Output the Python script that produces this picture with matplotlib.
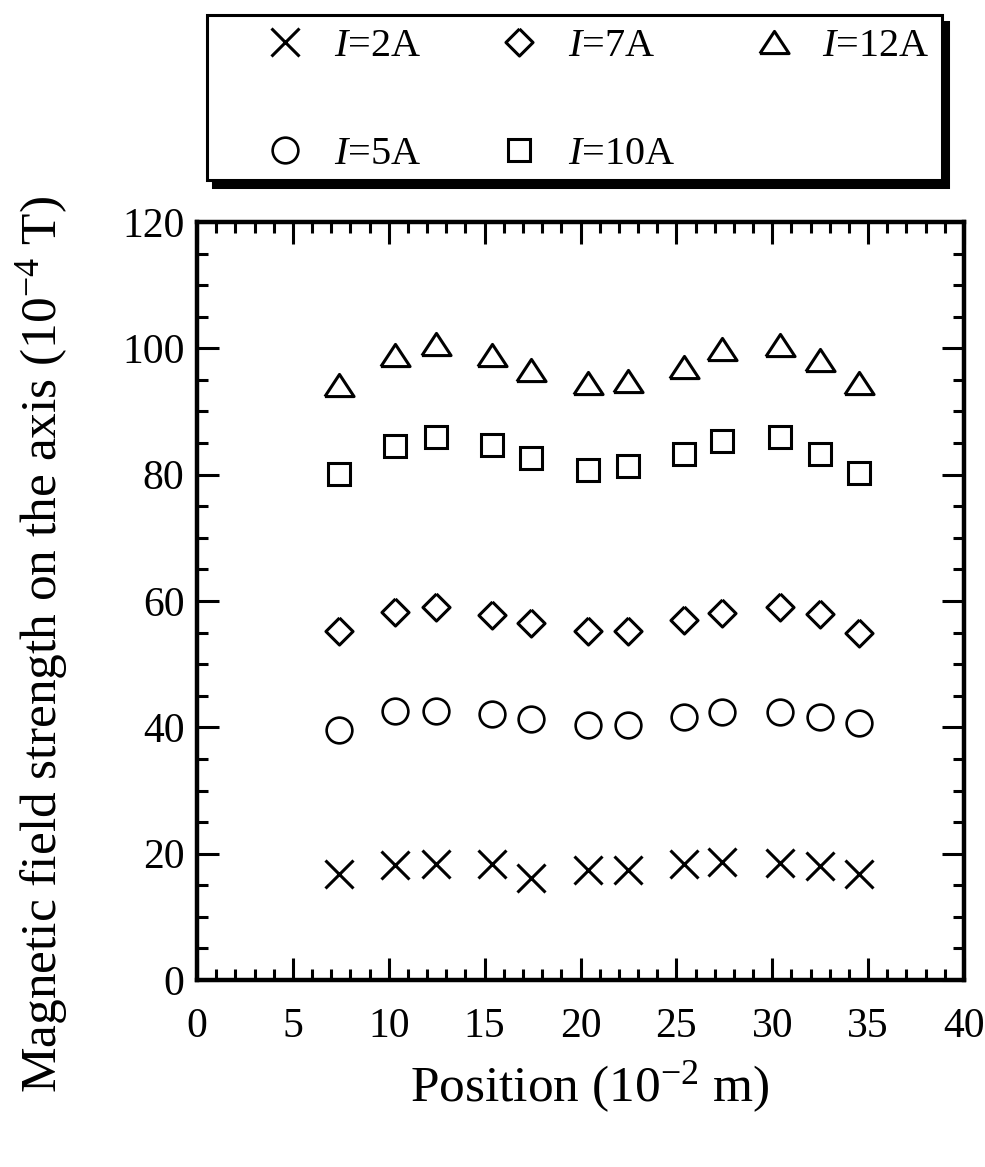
import matplotlib
matplotlib.use("Agg")
import matplotlib.pyplot as plt
from matplotlib.patches import Rectangle
from matplotlib.ticker import MultipleLocator

plt.rcParams['font.family'] = ['Liberation Serif', 'DejaVu Serif']
plt.rcParams['mathtext.fontset'] = 'custom'
plt.rcParams['mathtext.rm'] = 'Liberation Serif'
plt.rcParams['mathtext.it'] = 'Liberation Serif:italic'

# measurement positions along the coil axis (10^-2 m)
position = [7.4, 10.3, 12.45, 15.4, 17.4, 20.4, 22.5, 25.4, 27.4, 30.4, 32.5, 34.5]

# field strength on the axis (10^-4 T) for each coil current
field_2a = [16.8, 18.2, 18.3, 18.3, 16.1, 17.4, 17.4, 18.3, 18.7, 18.6, 18.1, 16.8]
field_5a = [39.6, 42.6, 42.6, 42.1, 41.3, 40.4, 40.4, 41.6, 42.4, 42.5, 41.6, 40.7]
field_7a = [55.3, 58.2, 59.1, 57.8, 56.5, 55.3, 55.2, 57.0, 58.1, 59.0, 57.9, 55.0]
field_10a = [80.1, 84.6, 85.9, 84.7, 82.6, 80.8, 81.3, 83.3, 85.4, 85.9, 83.3, 80.3]
field_12a = [94.2, 99.0, 100.7, 99.0, 96.6, 94.5, 94.9, 97.0, 99.9, 100.6, 98.1, 94.5]

currents = ['2A', '5A', '7A', '10A', '12A']

# hollow marker shapes
diamond = [(0, 1), (1, 0), (0, -1), (-1, 0), (0, 1)]
triangle = [(-1, -0.76), (1, -0.76), (0, 0.76), (-1, -0.76)]

series = [
    (field_2a, dict(marker='x', ms=20, mew=2.2)),
    (field_5a, dict(marker='o', ms=18.5, mew=1.9)),
    (field_7a, dict(marker=diamond, ms=19.5, mew=2.2)),
    (field_10a, dict(marker='s', ms=15.5, mew=2.2)),
    (field_12a, dict(marker=triangle, ms=21, mew=2.2)),
]

fig = plt.figure(figsize=(9.85, 11.67), dpi=100)
ax = fig.add_axes([0.2, 0.1602, 0.7787, 0.6496])

handles = []
for vals, style in series:
    h, = ax.plot(position, vals, linestyle='none', mfc='none', mec='black',
                 color='black', **style)
    handles.append(h)

ax.set_xlim(0, 40)
ax.set_ylim(0, 120)
ax.xaxis.set_major_locator(MultipleLocator(5))
ax.xaxis.set_minor_locator(MultipleLocator(1))
ax.yaxis.set_major_locator(MultipleLocator(20))
ax.yaxis.set_minor_locator(MultipleLocator(5))
ax.tick_params(which='both', direction='in', top=True, right=True,
               width=2.2, labelsize=30)
ax.tick_params(axis='x', which='major', pad=20)
ax.tick_params(axis='y', which='major', pad=9)
ax.tick_params(which='major', length=16)
ax.tick_params(which='minor', length=8)
for sp in ax.spines.values():
    sp.set_linewidth(3.2)

ax.set_xlabel(r'Position (10$^{-2}$ m)', fontsize=37)
ax.set_ylabel(r'Magnetic field strength on the axis (10$^{-4}$ T)', fontsize=37)
ax.xaxis.set_label_coords(0.512, -0.105)
ax.xaxis.label.set_va('top')
ax.yaxis.set_label_coords(-0.165, 0.442)

# legend box with a solid drop shadow
fig.patches.append(Rectangle((0.2163, 0.8398), 0.7462, 0.1414,
                             transform=fig.transFigure, fc='black', ec='black',
                             lw=2.2, zorder=0))
fig.patches.append(Rectangle((0.2102, 0.8458), 0.7462, 0.1414,
                             transform=fig.transFigure, fc='white', ec='black',
                             lw=2.2, zorder=1))

labels = [r'$I$=' + c for c in currents]
fig.legend(handles, labels, ncol=3, frameon=False, loc='upper left',
           bbox_to_anchor=(0.263, 0.976), fontsize=29, markerscale=1.0,
           handlelength=1.3, handletextpad=0.55, columnspacing=1.8,
           labelspacing=1.75, borderpad=0, borderaxespad=0)

fig.savefig('out.png', dpi=100)
